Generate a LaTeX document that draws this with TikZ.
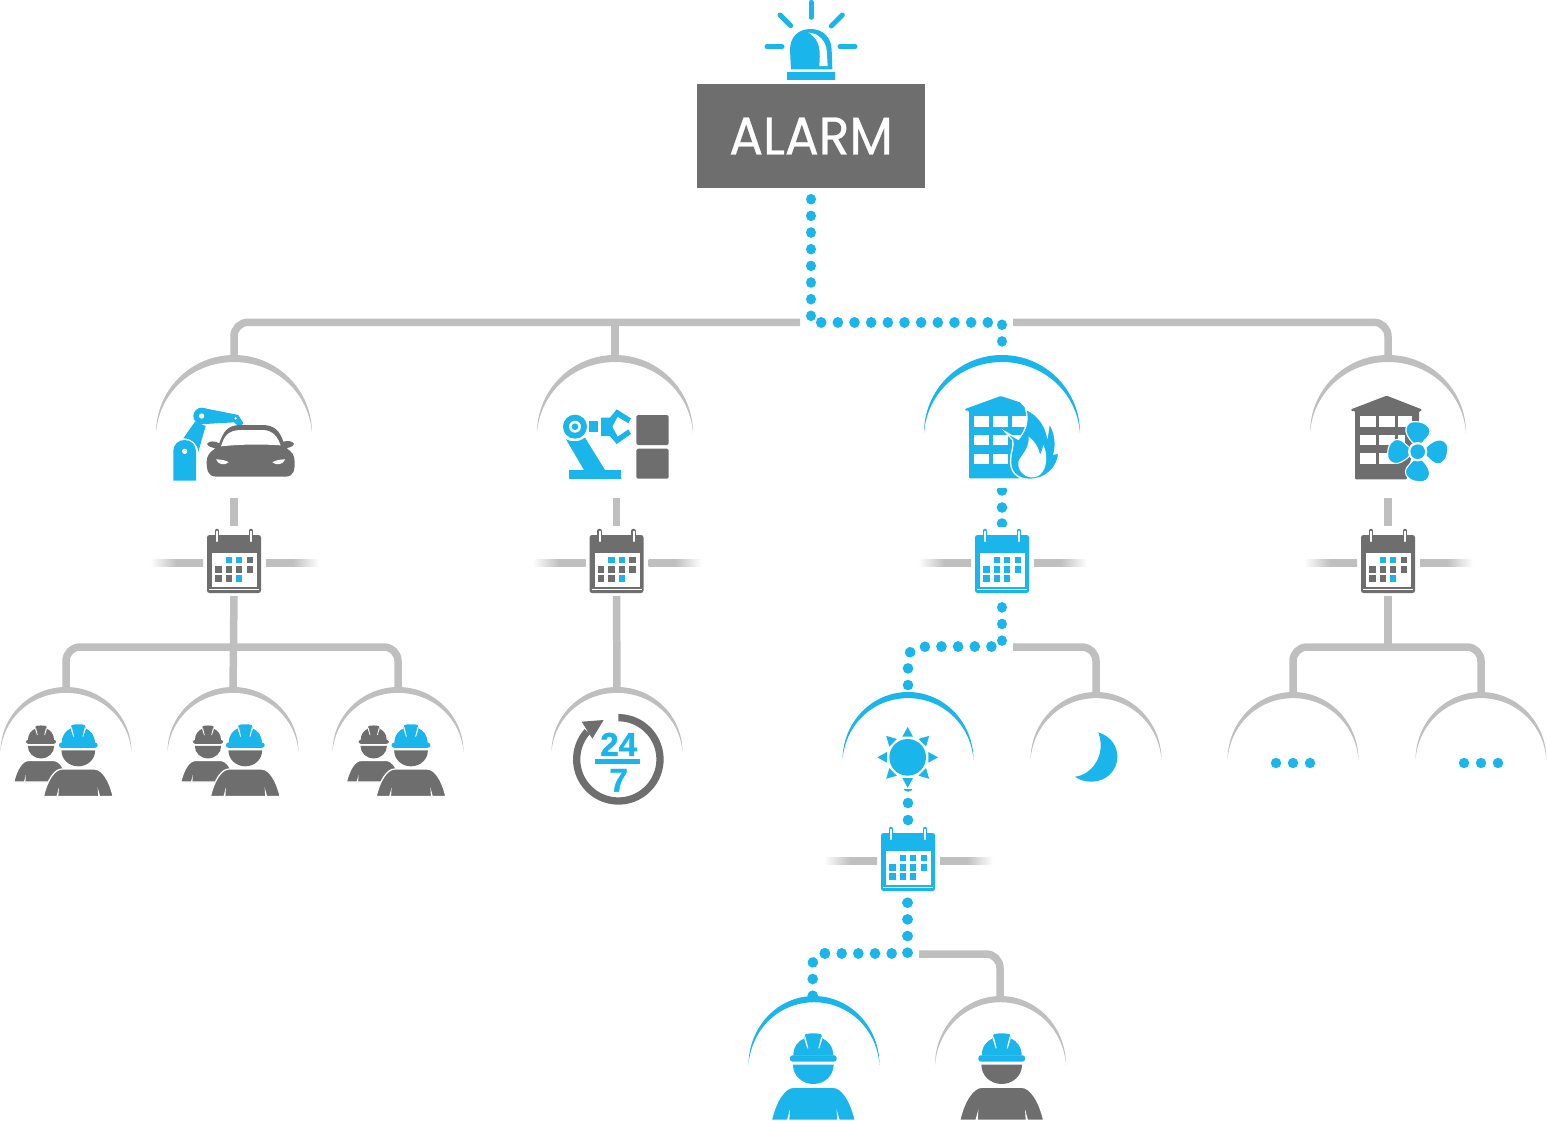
\documentclass[tikz,border=0pt]{standalone}
\usepackage{fontspec}
\usepackage{graphicx}
\newfontfamily\alarmf[FakeBold=0.5]{Poppins}
\newfontfamily\numf[FakeBold=1.2]{Liberation Sans Bold}
\definecolor{bl}{HTML}{1AB5EB}
\definecolor{gr}{HTML}{6D6E6D}
\definecolor{lg}{HTML}{BFBFBF}
\newcommand{\calcell}[3]{\fill[#3] ({#1-3.2},{#2-3.2}) rectangle ({#1+3.2},{#2+3.2});}
\tikzset{
  gl/.style={draw=lg,line width=7.5pt},
  dotl/.style={draw=bl,line width=10.6pt,line cap=round,dash pattern=on 0.01pt off 16.65pt},
  pics/dome/.style={code={
    \fill[#1] (-100,0) .. controls (-100,-55.2) and (-55.2,-100) .. (0,-100)
      .. controls (55.2,-100) and (100,-55.2) .. (100,0)
      .. controls (96,-52) and (53,-91) .. (0,-91)
      .. controls (-53,-91) and (-96,-52) .. (-100,0) -- cycle;
  }},
  pics/calendar/.style n args={2}{code={
    \fill[#1,rounded corners=2.5pt] (-27,-28) rectangle (27,30);
    \fill[white] (-22,-10) rectangle (23,24);
    \draw[white,line width=.5pt] (-25,26.6) -- (25,26.6);
    \foreach \sx in {-17,17}{
      \draw[#1,line width=4.6pt,line cap=round] (\sx,-32) -- (\sx,-23);
      \draw[white,line width=2pt,line cap=round] (\sx,-31.5) -- (\sx,-22);
      \draw[#1,line width=1pt] (\sx-2.3,-27) -- (\sx-2.3,-21);
      \draw[#1,line width=1pt] (\sx+2.3,-27) -- (\sx+2.3,-21);
    }
    \calcell{-5.2}{-3}{#2}\calcell{5.2}{-3}{#2}\calcell{15.8}{-3}{#1}
    \calcell{-15.5}{6.3}{#1}\calcell{-5.2}{6.3}{#1}\calcell{5.2}{6.3}{#1}\calcell{15.8}{6.3}{#1}
    \calcell{-15.5}{15.3}{#1}\calcell{-5.2}{15.3}{#1}\calcell{5.2}{15.3}{#2}
  }},
  pics/worker/.style n args={2}{code={
    \fill[#2,draw=white,line width=1.3pt] (-126,186) .. controls (-112,125) and (-85,87) .. (-60,87)
      -- (60,87) .. controls (85,87) and (112,125) .. (126,186) -- cycle;
    \fill[white] (-79,186) -- (-70,153) -- (-72,186) -- cycle;
    \fill[white] (79,186) -- (70,153) -- (72,186) -- cycle;
    \fill[#2] (-61,19) -- (61,19) .. controls (61,52) and (34,77) .. (0,77)
      .. controls (-34,77) and (-61,52) .. (-61,19) -- cycle;
    \fill[#1] (-60,-8) .. controls (-60,-35) and (-45,-52) .. (-27,-60) -- (-24,-72)
      .. controls (-15,-76) and (15,-76) .. (24,-72) -- (27,-60)
      .. controls (45,-52) and (60,-35) .. (60,-8) -- cycle;
    \fill[#1,rounded corners=2.5pt] (-70,-9) rectangle (70,10);
    \fill[white] (-24,-66) -- (-15,-30) -- (-18,-30) -- (-27,-58) -- cycle;
    \fill[white] (24,-66) -- (15,-30) -- (18,-30) -- (27,-58) -- cycle;
  }},
  pics/crew/.style={code={
    \pic[scale=.2167] at (-37.3,-3.3) {worker={gr}{gr}};
    \pic[scale=.2767] at (0,0) {worker={bl}{gr}};
  }}
}
\begin{document}
\begin{tikzpicture}[x=1pt,y=-1pt]
\useasboundingbox (0,0) rectangle (1547,1120);

\node[fill=gr,minimum width=228pt,minimum height=104pt,inner sep=0pt,text=white] (alarm) at (811,136)
  {\alarmf\fontsize{53pt}{53pt}\selectfont\scalebox{.95}[1]{ALARM}};
\coordinate (jl) at (800,322.3);
\coordinate (jr) at (1013,322.3);
\coordinate (b2) at (615,322.3);
\coordinate (m1) at (1002,322.3);
\coordinate (d1) at (234,358);
\coordinate (d2) at (615,358);
\coordinate (d3) at (1002,358);
\coordinate (d4) at (1388,358);
\coordinate (c1) at (234,563);
\coordinate (c2) at (616.5,563);
\coordinate (c3) at (1002,563);
\coordinate (c4) at (1388,563);
\coordinate (c5) at (908,861);

% top connectors
\draw[gl,rounded corners=14pt] (jl) -| (d1);
\draw[gl] (b2) -- (d2);
\draw[gl,rounded corners=14pt] (jr) -| (d4);
\draw[dotl] ([yshift=-11pt]alarm.south) |- (m1) -- (d3);

% calendar stubs and fades
\foreach \nm in {c1,c2,c3,c4,c5}{
  \shade[left color=white,right color=lg,middle color=lg] ([shift={(-84,-3.7)}]\nm) rectangle ([shift={(-31,3.7)}]\nm);
  \shade[left color=lg,right color=white,middle color=lg] ([shift={(32,-3.7)}]\nm) rectangle ([shift={(85,3.7)}]\nm);
}
\foreach \nm in {c1,c2,c4}{
  \draw[gl] ([yshift=65pt]\nm) -- ([yshift=37pt]\nm);
}
\begin{scope}
  \clip (990,488) rectangle (1014,526);
  \fill[bl] (1002,490.5) circle (5.3pt) (1002,507.5) circle (5.3pt) (1002,523.5) circle (5.3pt);
\end{scope}
\begin{scope}
  \clip (896,789) rectangle (920,829);
  \fill[bl] (908,786.5) circle (5.3pt) (908,803) circle (5.3pt) (908,820) circle (5.3pt);
\end{scope}

% second level
\coordinate (e1) at (66,690); \coordinate (e2) at (233,690); \coordinate (e3) at (398,690);
\coordinate (k1) at (234,647);
\coordinate (e4) at (617,689);
\coordinate (e5) at (908,694); \coordinate (e6) at (1096,695);
\coordinate (k3) at (1002,646.7); \coordinate (k3r) at (1013,647); \coordinate (k3b) at (924.9,646.7);
\coordinate (e7) at (1293,695); \coordinate (e8) at (1481,695);
\coordinate (k4) at (1388,647);
\draw[gl,rounded corners=14pt] (e1) |- (k1) -| (e3);
\draw[gl] ([yshift=-33pt]c1) -- (e2);
\draw[gl] ([yshift=-33pt]c2) -- (e4);
\draw[gl,rounded corners=14pt] (k3r) -| (e6);
\draw[gl] ([yshift=-33pt]c4) -- (k4);
\draw[gl,rounded corners=14pt] (e7) |- (k4) -| (e8);
\draw[dotl] (1002,607.3) -- (k3) -- (k3b);
\draw[dotl,rounded corners=12pt] (k3b) -| (e5);

% third level
\coordinate (k5) at (907.7,953.3); \coordinate (k5r) at (919,954); \coordinate (k5b) at (824.7,953.3);
\coordinate (e9) at (812.7,1000); \coordinate (e10) at (1000,1000);
\draw[gl,rounded corners=14pt] (k5r) -| (e10);
\draw[dotl] (907.7,902.7) -- (k5) -- (k5b);
\draw[dotl,rounded corners=10pt] (k5b) -| (e9);

% domes
\pic[scale=.78] at (234,433) {dome=lg};
\pic[scale=.78] at (615,433) {dome=lg};
\pic[scale=.78] at (1002,433) {dome=bl};
\pic[scale=.78] at (1388,433) {dome=lg};
\foreach \cx in {66,233,398,617}{
  \pic[xscale=.655,yscale=.65] at (\cx,752) {dome=lg};
}
\pic[xscale=.655,yscale=.68] at (908,760) {dome=bl};
\pic[xscale=.655,yscale=.68] at (1096,760) {dome=lg};
\pic[xscale=.655,yscale=.68] at (1293,760) {dome=lg};
\pic[xscale=.655,yscale=.68] at (1481,760) {dome=lg};
\pic[xscale=.655,yscale=.69] at (814,1065) {dome=bl};
\pic[xscale=.655,yscale=.69] at (1000.5,1065) {dome=lg};

% calendars
\pic at (c1) {calendar={gr}{bl}};
\pic at (c2) {calendar={gr}{bl}};
\pic at (c3) {calendar={bl}{bl}};
\pic at (c4) {calendar={gr}{bl}};
\pic at (c5) {calendar={bl}{bl}};

% siren
\begin{scope}[shift={(680,0)},scale=.33333]
  \draw[bl,line width=5pt,line cap=round] (393,7) -- (393,52);
  \draw[bl,line width=5pt,line cap=round] (300,45) -- (332,77);
  \draw[bl,line width=5pt,line cap=round] (487,45) -- (454,78);
  \draw[bl,line width=5pt,line cap=round] (261,140) -- (306,140);
  \draw[bl,line width=5pt,line cap=round] (480,140) -- (525,140);
  \fill[bl] (333,208) -- (330,150) .. controls (330,110) and (355,87) .. (393,87)
    .. controls (430,87) and (455,115) .. (455,150) -- (457,208) -- cycle;
  \fill[white] (385,98) .. controls (420,98) and (438,130) .. (440,150) -- (443,198) -- (418,198)
    .. controls (420,160) and (425,120) .. (385,98) -- cycle;
  \fill[bl] (322,215) rectangle (465,240);
\end{scope}

% robot and car
\begin{scope}[shift={(140,340)},scale=.33333]
  \fill[bl] (100,422) -- (100,335) .. controls (100,312) and (115,300) .. (134,300)
    .. controls (155,300) and (168,315) .. (168,335) -- (168,422) -- cycle;
  \fill[white] (134,334) circle (8);
  \fill[bl] (130,295) -- (165,245) -- (197,258) -- (175,335) .. controls (172,310) and (155,295) .. (130,295) -- cycle;
  \fill[bl] (190,204) -- (295,225) -- (310,250) -- (298,262) -- (283,247) -- (195,252) -- cycle;
  \fill[bl] (185,228) circle (25);
  \fill[white] (185,228) circle (8);
  \fill[white] (287,235) circle (4);
  \fill[gr] (238,310) .. controls (250,275) and (262,256) .. (300,255) -- (370,255)
    .. controls (405,256) and (420,275) .. (430,305) .. controls (440,302) and (458,302) .. (462,312)
    .. controls (458,322) and (445,322) .. (440,325) .. controls (455,335) and (464,345) .. (464,365)
    .. controls (464,385) and (465,410) .. (435,410) -- (230,410)
    .. controls (200,410) and (200,385) .. (200,365) .. controls (200,345) and (212,335) .. (226,325)
    .. controls (218,322) and (205,322) .. (201,312) .. controls (205,302) and (226,302) .. cycle;
  \fill[white] (243,319) .. controls (252,290) and (262,272) .. (300,270) -- (370,270)
    .. controls (400,272) and (412,290) .. (422,316) .. controls (360,312) and (300,313) .. (243,319) -- cycle;
  \fill[white] (228,358) .. controls (245,358) and (260,362) .. (266,367) .. controls (255,376) and (235,376) .. (228,358) -- cycle;
  \fill[white] (436,358) .. controls (419,358) and (404,362) .. (397,367) .. controls (408,376) and (428,376) .. (436,358) -- cycle;
\end{scope}

% robot and boxes
\begin{scope}[shift={(520,340)},scale=.33333]
  \fill[gr,rounded corners=1.5pt] (349,225) rectangle (446,315);
  \fill[gr,rounded corners=1.5pt] (349,326) rectangle (446,416);
  \fill[bl] (147,390) rectangle (303,416);
  \fill[bl] (138,298) .. controls (160,308) and (180,305) .. (195,293) -- (255,390) -- (192,390) -- cycle;
  \fill[bl] (165,260) circle (36);
  \fill[white] (165,260) circle (18);
  \fill[bl] (165,260) circle (10);
  \fill[bl] (208,243) rectangle (235,277);
  \fill[bl] (243,233) -- (270,233) -- (290,208) -- (333,235) -- (325,250) -- (293,230) -- (277,260)
    -- (293,290) -- (325,268) -- (333,282) -- (290,312) -- (270,288) -- (243,288) -- cycle;
\end{scope}

% burning building
\begin{scope}[shift={(910,340)},scale=.33333]
  \fill[bl,rounded corners=1pt] (165,212) -- (165,207) -- (272,168) -- (330,187) -- (355,215) -- (355,300) -- (330,415) -- (177,415) -- (177,212) -- cycle;
  \foreach \wy in {229,285,342}{
    \fill[white] (191,\wy) rectangle +(47,31);
    \fill[white] (249,\wy) rectangle +(46,31);
  }
  \fill[white] (305,229) rectangle (350,260);
  \fill[white] (305,285) rectangle (340,316);
  \fill[bl,draw=white,line width=1.3pt] (347,207) .. controls (385,225) and (405,255) .. (412,288)
    .. controls (414,275) and (416,262) .. (418,250) .. controls (435,275) and (440,310) .. (432,342)
    .. controls (437,342) and (442,340) .. (446,337) .. controls (445,385) and (405,418) .. (360,418)
    .. controls (320,418) and (298,395) .. (302,355) .. controls (303,335) and (312,320) .. (308,300)
    -- (285,275) -- (325,298) .. controls (345,275) and (358,245) .. (347,207) -- cycle;
  \fill[white] (356,290) .. controls (375,305) and (388,325) .. (390,345) .. controls (395,335) and (398,325) .. (400,315)
    .. controls (412,340) and (412,375) .. (398,395) .. controls (388,410) and (375,413) .. (362,412)
    .. controls (340,410) and (322,390) .. (325,365) .. controls (332,345) and (358,330) .. (356,290) -- cycle;
\end{scope}

% building with fan
\begin{scope}[shift={(1300,380)},scale=.33333]
  \fill[gr,rounded corners=1pt] (153,93) -- (153,88) -- (260,47) -- (365,88) -- (365,93) -- (357,93) -- (357,120) -- (320,298) -- (165,298) -- (165,93) -- cycle;
  \foreach \wy in {108,164,220}{
    \fill[white] (180,\wy) rectangle +(47,32);
    \fill[white] (238,\wy) rectangle +(46,32);
  }
  \fill[white] (294,108) rectangle (335,140);
  \fill[white] (294,164) rectangle (315,196);
  \begin{scope}[shift={(353,215)}]
    \foreach \a in {0,90,180,270}{
      \fill[bl,draw=white,line width=1.1pt,rotate=\a] (-12,-24) .. controls (-30,-40) and (-38,-60) .. (-35,-70)
        .. controls (-32,-85) and (-20,-92) .. (-5,-90)
        .. controls (20,-90) and (38,-75) .. (37,-60)
        .. controls (36,-45) and (20,-35) .. (12,-24) -- cycle;
    }
    \fill[white] (0,0) circle (29);
    \fill[bl] (0,0) circle (22);
  \end{scope}
\end{scope}

% crews
\pic at (78.3,745) {crew};
\pic at (245.3,745) {crew};
\pic at (411,745) {crew};

% 24/7
\begin{scope}[shift={(540,680)},scale=.33333]
  \draw[gr,line width=7.3pt] plot[domain=-90:222,samples=80,smooth] ({235+125*cos(\x)},{238+125*sin(\x)});
  \fill[gr] (125,125) -- (191,120) -- (157,176) -- cycle;
  \fill[bl] (165,238) rectangle (300,252);
  \node[inner sep=0pt,text=bl,font=\numf\fontsize{33pt}{33pt}\selectfont] (n24) at (236,193) {24};
  \node[inner sep=0pt,text=bl,font=\numf\fontsize{33pt}{33pt}\selectfont] (n7) at (236,301) {7};
\end{scope}

% sun
\begin{scope}[shift={(830,680)},scale=.33333]
  \fill[bl] (233,232) circle (55);
  \foreach \a in {0,45,...,315}{
    \begin{scope}[shift={(233,232)},rotate=\a]
      \fill[bl] (0,-91) -- (16,-62) -- (-16,-62) -- cycle;
    \end{scope}
  }
\end{scope}

% moon
\begin{scope}[shift={(830,680)},scale=.33333]
  \fill[bl] (805,157) .. controls (845,170) and (862,200) .. (862,230) .. controls (862,275) and (825,305) .. (785,305)
    .. controls (765,305) and (748,300) .. (735,290) .. controls (785,285) and (830,225) .. (805,157) -- cycle;
\end{scope}

% ellipsis dots
\foreach \cx in {1293,1481}{
  \fill[bl] (\cx-17,763) circle (5.2pt) (\cx,763) circle (5.2pt) (\cx+17,763) circle (5.2pt);
}

% single workers
\pic[scale=.33333] at (813.3,1058.3) {worker={bl}{bl}};
\pic[scale=.33333] at (1001.7,1058.3) {worker={bl}{gr}};
\end{tikzpicture}
\end{document}
